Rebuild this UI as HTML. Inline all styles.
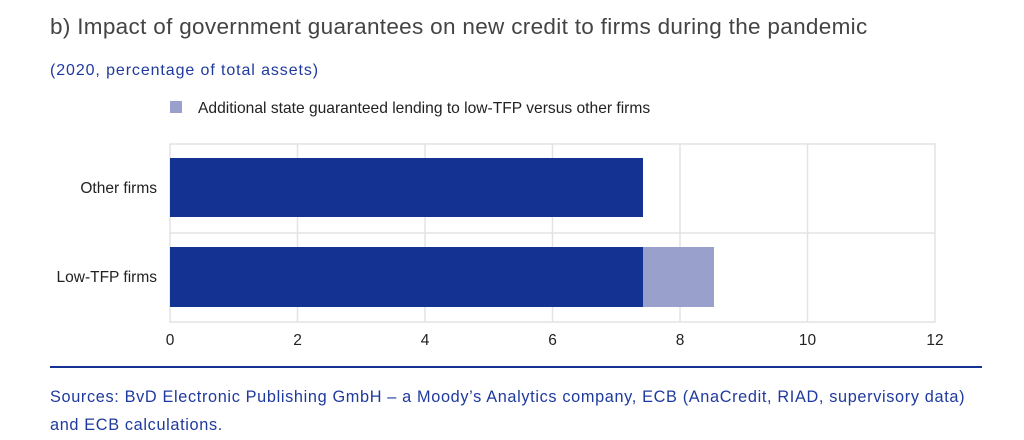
<!DOCTYPE html>
<html><head><style>
body{margin:0;width:1024px;height:440px;background:#fff;position:relative;overflow:hidden;font-family:"Liberation Sans",sans-serif}
.t{position:absolute;left:50px;top:14px;font-size:22.5px;letter-spacing:0.32px;color:#444;white-space:nowrap}
.s{position:absolute;left:50px;top:62px;font-size:16px;letter-spacing:0.9px;color:#1f3a9e;white-space:nowrap}
.src{position:absolute;left:50px;top:383px;font-size:16.3px;letter-spacing:0.65px;color:#1f3a9e;line-height:28px;white-space:nowrap}
</style></head><body>
<div class="t">b) Impact of government guarantees on new credit to firms during the pandemic</div>
<div class="s">(2020, percentage of total assets)</div>
<svg width="1024" height="440" style="position:absolute;left:0;top:0" font-family="Liberation Sans, sans-serif">
<rect x="170" y="101" width="12" height="12" fill="#9aa0cc"/>
<text x="198" y="113" font-size="15.6" fill="#222">Additional state guaranteed lending to low-TFP versus other firms</text>
<g stroke="#e3e3e3" stroke-width="1.5" fill="none">
<rect x="170" y="144" width="765" height="178"/>
<line x1="170" y1="233" x2="935" y2="233"/>
<line x1="297.5" y1="144" x2="297.5" y2="322"/>
<line x1="425" y1="144" x2="425" y2="322"/>
<line x1="552.5" y1="144" x2="552.5" y2="322"/>
<line x1="680" y1="144" x2="680" y2="322"/>
<line x1="807.5" y1="144" x2="807.5" y2="322"/>
</g>
<rect x="170" y="158" width="473" height="59" fill="#133291"/>
<rect x="170" y="247" width="473" height="60" fill="#133291"/>
<rect x="643" y="247" width="71" height="60" fill="#9aa0cc"/>
<g font-size="15.5" fill="#222" text-anchor="end">
<text x="157" y="193">Other firms</text>
<text x="157" y="282">Low-TFP firms</text>
</g>
<g font-size="15.5" fill="#222" text-anchor="middle">
<text x="170" y="345">0</text><text x="297.5" y="345">2</text><text x="425" y="345">4</text>
<text x="552.5" y="345">6</text><text x="680" y="345">8</text><text x="807.5" y="345">10</text><text x="935" y="345">12</text>
</g>
<rect x="50" y="366" width="932" height="2" fill="#133291"/>
</svg>
<div class="src">Sources: BvD Electronic Publishing GmbH – a Moody’s Analytics company, ECB (AnaCredit, RIAD, supervisory data)<br>and ECB calculations.</div>
</body></html>
